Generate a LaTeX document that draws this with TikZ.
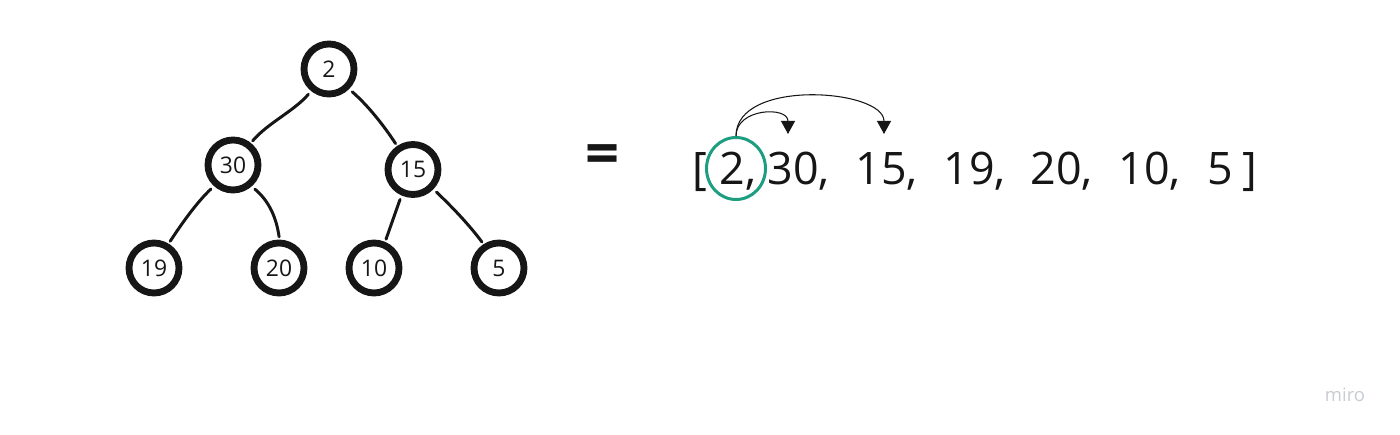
\documentclass[tikz,border=0pt]{standalone}
\usepackage{fontspec}
\setmainfont{Open Sans}
\usetikzlibrary{arrows.meta,shapes.geometric}
\definecolor{ink}{RGB}{22,22,22}
\definecolor{mirogreen}{RGB}{30,158,128}
\definecolor{wm}{RGB}{200,205,210}
\begin{document}
\begin{tikzpicture}[x=0.02cm,y=-0.02cm,
  tn/.style={circle,draw=ink,line width=3.9pt,minimum size=1.0cm,inner sep=0pt,
    font=\fontsize{13}{15}\selectfont,text=ink},
  edge/.style={draw=ink,line width=1.7pt,line cap=round,shorten <=2.4pt,shorten >=1.6pt},
  tok/.style={anchor=base,inner sep=0pt,font=\fontsize{25.5}{30}\selectfont,text=ink},
  ptr/.style={draw=ink,line width=0.6pt,-{Triangle[length=7.5pt,width=8pt]}}]
\useasboundingbox (0,0) rectangle (1400,435);
\fill[white] (0,0) rectangle (1400,435);
% tree
\node[tn] (n2)  at (329,69)    {2};
\node[tn] (n30) at (233,165)   {30};
\node[tn] (n15) at (413,169.5) {15};
\node[tn] (n19) at (154,268)   {19};
\node[tn] (n20) at (279,268)   {20};
\node[tn] (n10) at (374,268)   {10};
\node[tn] (n5)  at (499,268)   {5};
\draw[edge] (n2.231.5) .. controls +(-17,20) and +(17,-20) .. (n30.51.7);
\draw[edge] (n2.315.7) .. controls +(19,16.5) and +(-13,-20) .. (n15.124);
\draw[edge] (n30.228.7) .. controls +(-17,16) and +(13,-20) .. (n19.59.6);
\draw[edge] (n30.311.1) .. controls +(18,15) and +(-3,-21) .. (n20.89.5);
\draw[edge] (n15.246.4) -- (n10.67.3);
\draw[edge] (n15.316.7) .. controls +(18,17) and +(-14,-19) .. (n5.123.4);
% equals
\node[inner sep=0pt,font=\fontsize{34}{34}\bfseries\selectfont,text=ink] (eq) at (602.5,160) {=};
% array
\node[tok] (lb)  at (700,185)    {[};
\node[tok] (a1)  at (738,185)    {2,};
\node[tok] (a2)  at (798.5,185)  {30,};
\node[tok] (a3)  at (886.5,185)  {15,};
\node[tok] (a4)  at (974.5,185)  {19,};
\node[tok] (a5)  at (1061.5,185) {20,};
\node[tok] (a6)  at (1149.5,185) {10,};
\node[tok] (a7)  at (1220,185)   {5};
\node[tok] (rb)  at (1250,185)   {]};
% highlight
\node[ellipse,draw=mirogreen,line width=1.7pt,inner sep=0pt,minimum width=1.18cm,minimum height=1.24cm] (e) at (736,168.5) {};
\coordinate (t1) at (788,134);
\coordinate (t2) at (884,134);
\draw[ptr] (e.north) .. controls +(0,-28) and +(0,-28) .. (t1);
\draw[ptr] (e.north) .. controls +(0,-58) and +(0,-45) .. (t2);
% watermark
\node[anchor=base,inner sep=0pt,font=\fontsize{10.5}{12}\selectfont,text=wm] (wmk) at (1345,402) {miro};
\end{tikzpicture}
\end{document}
